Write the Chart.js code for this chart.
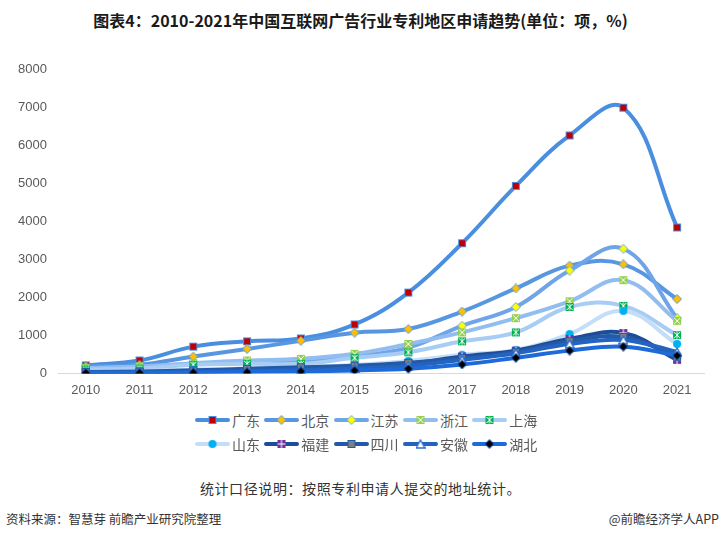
<!DOCTYPE html>
<html>
<head>
<meta charset="utf-8">
<script src="https://cdn.jsdelivr.net/npm/chart.js@4.4.0/dist/chart.umd.min.js"></script>
<style>
    body { margin: 0; background: #fff; font-family: "Noto Sans CJK SC", sans-serif; }
    #wrap { position: relative; width: 721px; height: 539px; overflow: hidden; }
    #title { position: absolute; top: 8px; left: 0; width: 721px; text-align: center; font-size: 16px; font-weight: bold; color: #1a1a1a; }
    #chart-box { position: absolute; top: 50px; left: 0; width: 721px; height: 357px; }
    #legend-div { position: absolute; top: 408px; left: 195px; }
    .row { display: flex; height: 24px; align-items: center; }
    .item { display: flex; align-items: center; width: 69.3px; }
    .item span { font-size: 14px; color: #595959; margin-left: 2px; line-height: 16px; }
    #note { position: absolute; top: 478px; left: 0; width: 721px; text-align: center; font-size: 14px; color: #333; letter-spacing: 0.6px; }
    #source { position: absolute; top: 509px; left: 6px; font-size: 12.5px; color: #333; }
    #brand { position: absolute; top: 509px; right: 2px; font-size: 12.5px; color: #333; }
</style>
</head>
<body>
<div id="wrap">
    <div id="title">图表4：2010-2021年中国互联网广告行业专利地区申请趋势(单位：项，%)</div>
    <div id="chart-box"><canvas id="lineChartCanvas" width="721" height="357"></canvas></div>
    <div id="legend-div"></div>
    <div id="note">统计口径说明：按照专利申请人提交的地址统计。</div>
    <div id="source">资料来源：智慧芽 前瞻产业研究院整理</div>
    <div id="brand">@前瞻经济学人APP</div>
</div>
<script>
// 数据
let years = ['2010', '2011', '2012', '2013', '2014', '2015', '2016', '2017', '2018', '2019', '2020', '2021'];
let regions = ['广东', '北京', '江苏', '浙江', '上海', '山东', '福建', '四川', '安徽', '湖北'];

let guangdong = [210, 340, 705, 845, 920, 1290, 2130, 3430, 4940, 6270, 7000, 3845];
let beijing = [190, 227, 445, 645, 860, 1072, 1168, 1630, 2240, 2840, 2875, 1960];
let jiangsu = [130, 170, 250, 300, 340, 450, 680, 1255, 1750, 2710, 3285, 1455];
let zhejiang = [140, 183, 270, 340, 383, 515, 775, 1080, 1455, 1900, 2457, 1385];
let shanghai = [100, 130, 227, 253, 253, 410, 557, 845, 1080, 1750, 1778, 1010];
let shandong = [50, 60, 100, 130, 160, 220, 330, 490, 620, 1037, 1647, 775];
let fujian = [20, 30, 50, 70, 100, 150, 250, 445, 600, 907, 1063, 357];
let sichuan = [40, 50, 80, 120, 160, 200, 280, 400, 560, 850, 960, 440];
let anhui = [15, 25, 40, 60, 90, 130, 200, 357, 530, 775, 880, 567];
let hubei = [15, 15, 25, 35, 52, 78, 122, 235, 410, 600, 705, 470];

let seriesValues = [guangdong, beijing, jiangsu, zhejiang, shanghai, shandong, fujian, sichuan, anhui, hubei];
let yTicks = [0, 1000, 2000, 3000, 4000, 5000, 6000, 7000, 8000];

let lineColors = ['#4a8ee0', '#5797e2', '#6fa5e8', '#92bdf0', '#a7cdf4', '#c4def8', '#1e4d98', '#235aa8', '#2563c0', '#1e6ad8'];
let markerShapes = ['square', 'diamond', 'diamond', 'squareX', 'squareStar', 'circle', 'squarePlus', 'square', 'triangle', 'diamond'];
let markerFills = ['#c00000', '#ffc000', '#ffff00', '#92d050', '#00b050', '#00b0f0', '#7030a0', '#7f7f7f', '#ffffff', '#000000'];


let makeMarker = function (shape, fill, edge) {
    let c = document.createElement('canvas');
    c.width = 10;
    c.height = 10;
    let g = c.getContext('2d');
    g.fillStyle = fill;
    g.strokeStyle = edge;
    g.lineWidth = 1;

    if (shape === 'diamond') {
        g.beginPath();
        g.moveTo(5, 0.5); g.lineTo(9.5, 5); g.lineTo(5, 9.5); g.lineTo(0.5, 5);
        g.closePath();
        g.fill();
        g.stroke();
    } else if (shape === 'circle') {
        g.beginPath();
        g.arc(5, 5, 4, 0, Math.PI * 2);
        g.fill();
    } else if (shape === 'triangle') {
        g.beginPath();
        g.moveTo(5, 1); g.lineTo(9.3, 9); g.lineTo(0.7, 9);
        g.closePath();
        g.fill();
        g.strokeStyle = '#2e6fd0';
        g.lineWidth = 1.4;
        g.stroke();
    } else {
        g.fillRect(1, 1, 8, 8);
        if (shape === 'square') {
            g.strokeRect(1.5, 1.5, 7, 7);
        }
        g.strokeStyle = '#ffffff';
        g.lineWidth = 1;
        g.beginPath();
        if (shape === 'squareX' || shape === 'squareStar') {
            g.moveTo(2, 2); g.lineTo(8, 8);
            g.moveTo(8, 2); g.lineTo(2, 8);
        }
        if (shape === 'squareStar') {
            g.moveTo(5, 1.5); g.lineTo(5, 8.5);
        }
        if (shape === 'squarePlus') {
            g.moveTo(5, 1); g.lineTo(5, 9);
            g.moveTo(1, 5); g.lineTo(9, 5);
        }
        g.stroke();
    }
    return c;
};

let markers = markerShapes.map(function (shape, i) {
    return makeMarker(shape, markerFills[i], lineColors[i]);
});


let lineChartDraw = function () {
    let ctx = document.getElementById('lineChartCanvas').getContext('2d');

    let datasets = regions.map(function (name, i) {
        return {
            label: name,
            data: seriesValues[i],
            borderColor: lineColors[i],
            backgroundColor: lineColors[i],
            borderWidth: 4,
            borderCapStyle: 'round',
            tension: 0.4,
            fill: false,
            pointStyle: markers[i],
            pointRadius: 4,
            order: regions.length - i
        };
    });

    window.lineChart = new Chart(ctx, {
        type: 'line',
        data: { labels: years, datasets: datasets },
        options: {
            responsive: false,
            animation: false,
            events: [],
            layout: { padding: { top: 10, left: 6, right: 17, bottom: 0 } },
            plugins: {
                legend: { display: false },
                tooltip: { enabled: false }
            },
            scales: {
                x: {
                    offset: true,
                    grid: { display: false, drawTicks: false },
                    border: { color: '#d9d9d9', width: 1 },
                    ticks: { color: '#595959', padding: 9, font: { family: 'Liberation Sans', size: 13 } }
                },
                y: {
                    min: 0,
                    max: 8000,
                    afterBuildTicks: function (axis) {
                        axis.ticks = yTicks.map(function (v) { return { value: v }; });
                    },
                    grid: { display: false, drawTicks: false },
                    border: { display: false },
                    ticks: {
                        color: '#595959',
                        padding: 12,
                        font: { family: 'Liberation Sans', size: 13 },
                        callback: function (v) { return String(v); }
                    }
                }
            }
        }
    });
};


let legendDraw = function () {
    let box = document.getElementById('legend-div');
    for (let r = 0; r < 2; r++) {
        let row = document.createElement('div');
        row.className = 'row';
        for (let k = 0; k < 5; k++) {
            let i = r * 5 + k;
            let item = document.createElement('div');
            item.className = 'item';
            let icon = document.createElement('canvas');
            icon.width = 35;
            icon.height = 12;
            let g = icon.getContext('2d');
            g.strokeStyle = lineColors[i];
            g.lineWidth = 4;
            g.lineCap = 'round';
            g.beginPath();
            g.moveTo(2, 6);
            g.lineTo(33, 6);
            g.stroke();
            g.drawImage(markers[i], 12.5, 1);
            item.appendChild(icon);
            let text = document.createElement('span');
            text.textContent = regions[i];
            item.appendChild(text);
            row.appendChild(item);
        }
        box.appendChild(row);
    }
};

window.onload = function () {
    lineChartDraw();
    legendDraw();
};
</script>
</body>
</html>
